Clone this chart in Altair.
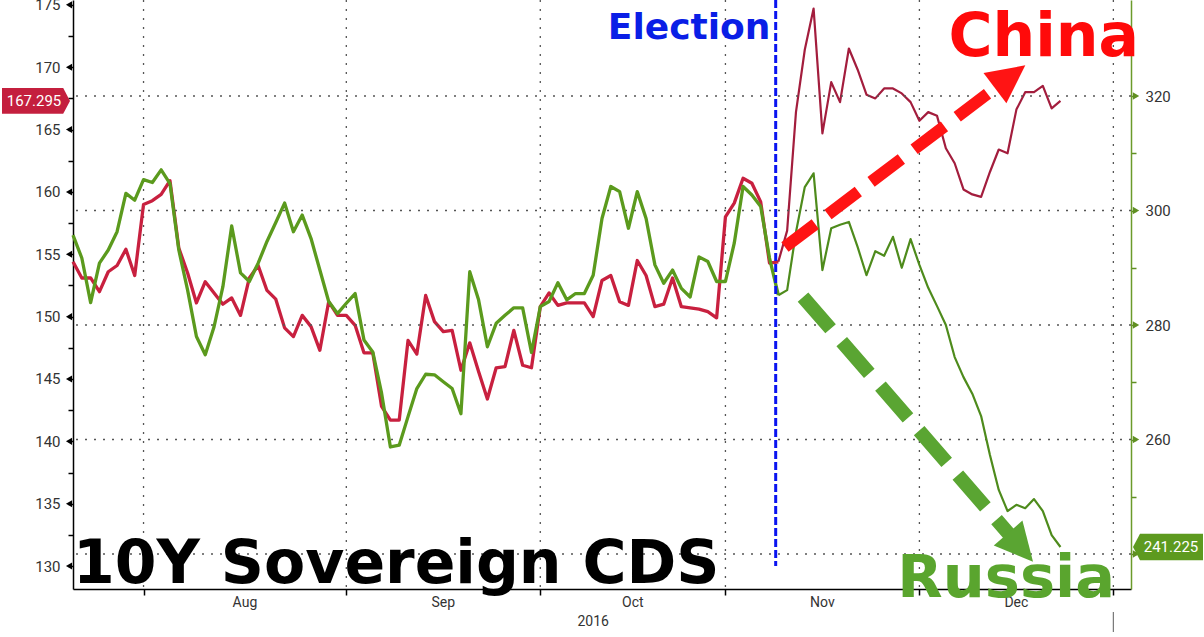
import altair as alt
import numpy as np
import pandas as pd

# ---------------- data ----------------
START = "2016-07-20"          # first business day shown

china_cds = [
    154.4, 153.1, 153.1, 152.0, 153.6, 154.1, 155.4, 153.3, 159.0, 159.3,
    159.8, 160.9, 155.5, 153.5, 151.1, 152.8, 151.9, 151.0, 151.5, 150.1,
    153.1, 154.1, 152.1, 151.4, 149.1, 148.4, 150.1, 149.2, 147.3, 151.2,
    150.1, 150.1, 149.3, 147.1, 147.1, 142.8, 141.7, 141.7, 148.1, 147.0,
    151.7, 149.6, 148.8, 148.9, 145.7, 147.9, 145.6, 143.4, 145.9, 146.0,
    148.9, 146.1, 145.9, 150.8, 151.9, 150.9, 151.1, 151.1, 151.1, 150.0,
    152.9, 153.3, 151.2, 150.9, 154.5, 153.3, 150.8, 151.0, 153.1, 150.8,
    150.7, 150.6, 150.4, 149.9, 158.0, 159.1, 161.1, 160.7, 159.2, 154.3,
    154.4, 156.9, 166.4, 171.4, 174.7, 164.7, 168.8, 167.2, 171.5, 169.8,
    167.8, 167.5, 168.3, 168.3, 167.9, 167.2, 165.7, 166.4, 166.1, 163.5,
    162.3, 160.2, 159.8, 159.6, 161.6, 163.4, 163.1, 166.6, 168.0, 168.0,
    168.5, 166.7, 167.295,
]

russia_cds = [
    295.7, 291.7, 283.9, 290.8, 293.1, 296.3, 303.0, 301.8, 305.4, 304.9,
    307.1, 304.7, 293.1, 286.1, 278.0, 274.8, 279.7, 286.7, 297.3, 289.1,
    287.6, 290.8, 294.6, 297.9, 301.3, 296.3, 299.2, 295.1, 289.6, 284.1,
    282.0, 283.8, 285.5, 277.4, 275.3, 268.1, 258.7, 259.0, 264.0, 268.9,
    271.4, 271.3, 270.1, 268.9, 264.5, 289.3, 284.4, 276.2, 280.3, 281.7,
    283.0, 283.0, 275.2, 283.2, 284.1, 287.4, 284.4, 285.5, 285.5, 288.7,
    298.6, 304.2, 303.3, 296.9, 303.3, 298.6, 290.5, 287.3, 289.6, 286.4,
    284.9, 291.9, 291.1, 287.6, 287.6, 294.3, 304.2, 302.7, 300.7, 291.7,
    285.2, 286.1, 296.2, 304.1, 306.5, 289.6, 296.9, 297.5, 298.0, 293.6,
    288.7, 292.9, 292.1, 295.4, 290.0, 295.0, 290.5, 286.5, 283.3, 280.0,
    274.4, 270.9, 268.0, 264.1, 257.3, 251.2, 247.5, 248.6, 248.0, 249.6,
    247.5, 243.3, 241.225,
]

month_starts = ["2016-08-01", "2016-09-01", "2016-10-03", "2016-11-01",
                "2016-12-01", "2017-01-02"]
month_names = ["Aug", "Sep", "Oct", "Nov", "Dec"]
year_label = "2016"
election_date = "2016-11-09"

left_ticks = [130 + 2.5 * k for k in range(19)]      # 130 .. 175
left_major = [130, 135, 140, 145, 150, 155, 160, 165, 170, 175]
right_ticks = [240, 250, 260, 270, 280, 290, 300, 310, 320]
right_major = [240, 260, 280, 300, 320]

china_last = "167.295"
russia_last = "241.225"

left_domain = [128.16, 175.39]
right_domain = [233.89, 336.77]
x_domain = [0, 120]

# ---------------- helpers ----------------
def bday(d):
    return int(np.busday_count(START, d))

n = len(china_cds)
dates = pd.bdate_range(START, periods=n)
xi = [bday(d.strftime("%Y-%m-%d")) for d in dates]
split = bday(election_date)
bounds = [bday(d) for d in month_starts]
mids = [(bounds[i] + bounds[i + 1]) / 2 for i in range(len(month_names))]

china_df = pd.DataFrame({"x": xi, "v": china_cds})
russia_df = pd.DataFrame({"x": xi, "v": russia_cds})

W, H = 1058, 589
FONT = "Roboto"
BOLD = "DejaVu Sans"

x_axis = alt.Axis(values=bounds, labels=False, ticks=True, tickSize=6,
                  tickColor="black", tickWidth=1.5, domain=True,
                  domainColor="black", domainWidth=1.5, grid=False, title=None)
X = alt.X("x:Q", scale=alt.Scale(domain=x_domain, nice=False, zero=False), axis=x_axis)

left_axis = alt.Axis(orient="left", values=left_ticks, grid=False, title=None,
                     labelExpr="datum.value % 5 == 0 ? format(datum.value, 'd') : ''",
                     tickSize=5, tickColor="black", tickWidth=1.5,
                     domainColor="black", domainWidth=1.5, labelPadding=8,
                     labelFont=FONT, labelFontSize=15, labelColor="#333333")
left_scale = alt.Scale(domain=left_domain, nice=False, zero=False)
YL = alt.Y("v:Q", scale=left_scale, axis=left_axis)
YLn = alt.Y("v:Q", scale=left_scale, axis=None)

right_axis = alt.Axis(orient="right", values=right_ticks, grid=False, title=None,
                      labelExpr="datum.value % 20 == 0 ? format(datum.value, 'd') : ''",
                      tickSize=5, tickColor="#5f8f22", tickWidth=1.5,
                      domainColor="#6b9b2b", domainWidth=1.5, labelPadding=9,
                      labelFont=FONT, labelFontSize=15, labelColor="#333333")
right_scale = alt.Scale(domain=right_domain, nice=False, zero=False)
YR = alt.Y("v:Q", scale=right_scale, axis=right_axis)

RED_PRE, RED_POST = "#c8203f", "#a31d3d"
GRN_PRE, GRN_POST = "#5b9a1d", "#4e8b1c"

# ---------------- left group (China, left axis) ----------------
vgrid = alt.Chart(pd.DataFrame({"x": bounds})).mark_rule(
    color="#555555", strokeDash=[2, 7], strokeWidth=1.3).encode(x=X)

year_tick = alt.Chart(pd.DataFrame({"x": [bounds[-1]]})).mark_rule(
    color="#777777", strokeWidth=1.2).encode(x=X, y=alt.value(H + 23), y2=alt.value(H + 43))

month_text = alt.Chart(pd.DataFrame({"x": mids, "m": month_names})).mark_text(
    font=FONT, fontSize=14, color="#333333", baseline="middle").encode(
    x=X, y=alt.value(H + 14), text="m:N")

year_text = alt.Chart(pd.DataFrame({"x": [(0 + bounds[-1]) / 2], "m": [year_label]})).mark_text(
    font=FONT, fontSize=14, color="#333333", baseline="middle").encode(
    x=X, y=alt.value(H + 33), text="m:N")

left_tri = alt.Chart(pd.DataFrame({"v": left_major})).mark_point(
    shape="triangle-left", filled=True, color="black", size=50, opacity=1).encode(
    x=alt.value(-4), y=YL)

china_pre = alt.Chart(china_df[china_df.x <= split]).mark_line(
    color=RED_PRE, strokeWidth=3.3, strokeJoin="round").encode(x=X, y=YL)
china_post = alt.Chart(china_df[china_df.x >= split]).mark_line(
    color=RED_POST, strokeWidth=2.2, strokeJoin="round").encode(x=X, y=YL)

left_base = alt.layer(vgrid, year_tick, month_text, year_text, left_tri,
                      china_pre, china_post)

# ---------------- right group (Russia, right axis) ----------------
hgrid = alt.Chart(pd.DataFrame({"v": right_major})).mark_rule(
    color="#555555", strokeDash=[2, 7], strokeWidth=1.3).encode(y=YR)

russia_pre = alt.Chart(russia_df[russia_df.x <= split]).mark_line(
    color=GRN_PRE, strokeWidth=3.3, strokeJoin="round").encode(x=X, y=YR)
russia_post = alt.Chart(russia_df[russia_df.x >= split]).mark_line(
    color=GRN_POST, strokeWidth=2.2, strokeJoin="round").encode(x=X, y=YR)

right_tri = alt.Chart(pd.DataFrame({"v": right_major})).mark_point(
    shape="triangle-right", filled=True, color="#5f8f22", size=55, opacity=1).encode(
    x=alt.value(W + 5), y=YR)

r_tag_df = pd.DataFrame({"v": [russia_cds[-1]], "t": [russia_last]})
r_tag = alt.Chart(r_tag_df).mark_point(
    shape="M1,-0.38L-0.8,-0.38L-1,0L-0.8,0.38L1,0.38Z", filled=True,
    color="#5d9a1f", size=4900, opacity=1, strokeWidth=0).encode(
    x=alt.value(W + 37), y=YR)
r_tag_txt = alt.Chart(r_tag_df).mark_text(
    font=FONT, fontSize=15, color="white", baseline="middle").encode(
    x=alt.value(W + 40), y=YR, text="t:N")

right_group = alt.layer(hgrid, russia_pre, russia_post, right_tri, r_tag, r_tag_txt)

# ---------------- annotations (left scale, no axis) ----------------
e_x = bday(election_date)
election_rule = alt.Chart(pd.DataFrame({"x": [e_x - 0.3], "v": [left_domain[1]], "v2": [130.0]})).mark_rule(
    color="#0a14f0", strokeWidth=3, strokeDash=[8, 3]).encode(x=X, y=YLn, y2="v2:Q")

red_arrow = alt.Chart(pd.DataFrame({"x": [80.75], "v": [155.58], "x2": [106.2], "v2": [169.19]})).mark_rule(
    color="#ff1414", strokeWidth=12, strokeDash=[38, 16], strokeCap="butt").encode(
    x=X, y=YLn, x2="x2:Q", y2="v2:Q")
red_head = alt.Chart(pd.DataFrame({"x": [106.2], "v": [169.19]})).mark_point(
    shape="M0,-1L0.95,0.9L-0.95,0.9Z", filled=True, color="#ff1414", size=1600,
    angle=53, opacity=1, strokeWidth=0).encode(x=X, y=YLn)

green_arrow = alt.Chart(pd.DataFrame({"x": [82.8], "v": [151.57], "x2": [107.4], "v2": [131.56]})).mark_rule(
    color="#5aa532", strokeWidth=14, strokeDash=[42, 17], strokeCap="butt").encode(
    x=X, y=YLn, x2="x2:Q", y2="v2:Q")
green_head = alt.Chart(pd.DataFrame({"x": [107.4], "v": [131.56]})).mark_point(
    shape="M0,-1L0.95,0.9L-0.95,0.9Z", filled=True, color="#5aa532", size=1600,
    angle=139, opacity=1, strokeWidth=0).encode(x=X, y=YLn)


def big_text(label, x, v, size, color, align):
    return alt.Chart(pd.DataFrame({"x": [x], "v": [v], "t": [label]})).mark_text(
        font=BOLD, fontWeight="bold", fontSize=size, color=color, align=align,
        baseline="alphabetic").encode(x=X, y=YLn, text="t:N")


t_election = big_text("Election", 79.1, 172.25, 36, "#0a1ee6", "right")
t_china = big_text("China", 99.3, 170.9, 60, "#ff0a0a", "left")
t_russia = big_text("Russia", 93.5, 127.5, 59, "#5aa52e", "left")
t_title = big_text("10Y Sovereign CDS", 0.0, 128.64, 60, "black", "left")

c_tag_df = pd.DataFrame({"v": [china_cds[-1]], "t": [china_last]})
c_tag = alt.Chart(c_tag_df).mark_point(
    shape="M-1,-0.38L0.8,-0.38L1,0L0.8,0.38L-1,0.38Z", filled=True,
    color="#c41f3e", size=4624, opacity=1, strokeWidth=0).encode(
    x=alt.value(-37), y=YLn)
c_tag_txt = alt.Chart(c_tag_df).mark_text(
    font=FONT, fontSize=15, color="white", baseline="middle").encode(
    x=alt.value(-39), y=YLn, text="t:N")

annot = alt.layer(election_rule, t_title, red_arrow, red_head, green_arrow, green_head,
                  t_election, t_china, t_russia, c_tag, c_tag_txt)

chart = alt.layer(left_base, right_group, annot).resolve_scale(
    y="independent"
).properties(
    width=W, height=H,
    autosize=alt.AutoSizeParams(type="none"),
    padding={"left": 73, "top": 0, "right": 73, "bottom": 48},
    background="white",
).configure_view(stroke=None)

chart.save("out.html", embed_options={"renderer": "svg", "actions": False})
